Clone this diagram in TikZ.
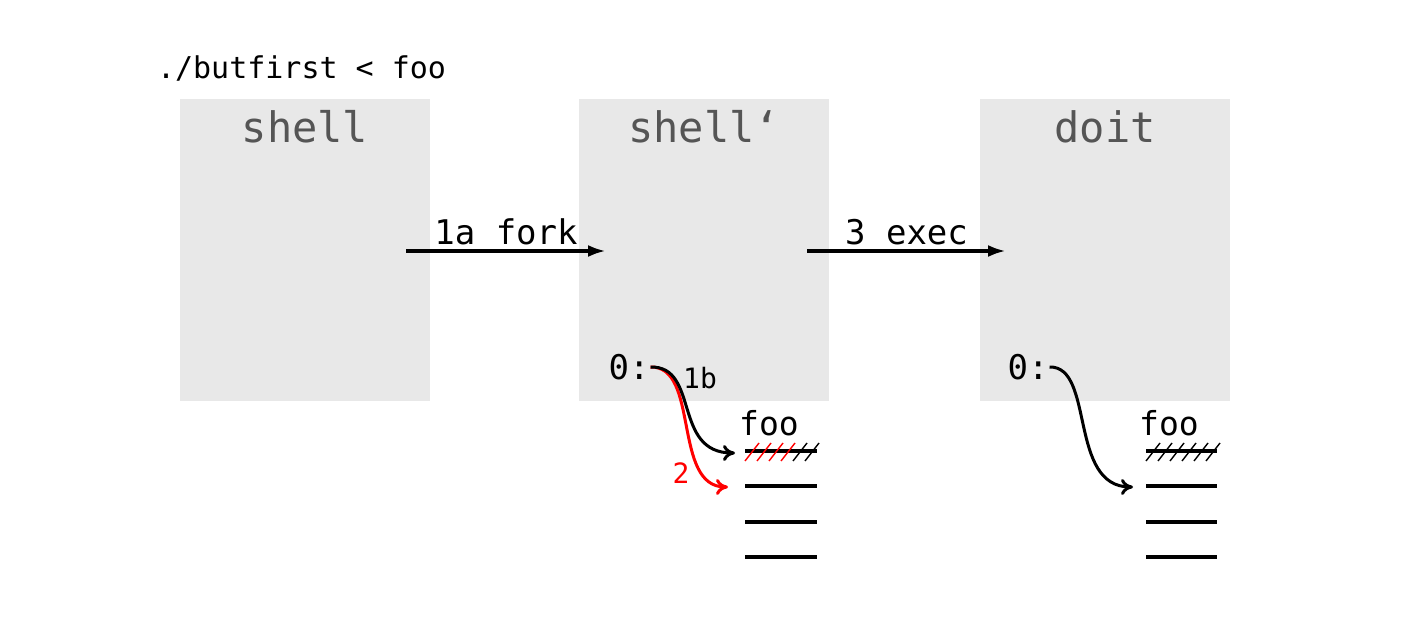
\documentclass[tikz,border=0pt]{standalone}
\usepackage{fontspec}
\setmonofont{DejaVu Sans Mono}
\usetikzlibrary{positioning,arrows.meta}
\definecolor{boxgray}{HTML}{E8E8E8}
\definecolor{labelgray}{HTML}{555555}
\begin{document}
\begin{tikzpicture}[x=0.5pt,y=-0.5pt,
    proc/.style={fill=boxgray, minimum width=125pt, minimum height=151pt, inner sep=0pt},
    proclabel/.style={text=labelgray, font=\ttfamily\fontsize{21}{24}\selectfont},
    steplabel/.style={font=\ttfamily\fontsize{17}{20}\selectfont},
    fdline/.style={line width=1.8pt},
    hatch/.style={line width=0.7pt},
    redir/.style={-{To[length=6pt,width=8pt]}, line width=1.5pt}]
        \useasboundingbox (0,0) rectangle (1417,624);

        % Command line
        \node[anchor=west, font=\ttfamily\fontsize{15}{18}\selectfont] (cmd) at (150,69) {./butfirst < foo};

        % --- Process boxes ---
        \node[proc] (shell) at (305,250) {};
        \node[proc] (shellc) at (704,250) {};
        \node[proc] (doit) at (1105,250) {};
        \node[proclabel] at (305,127) {shell};
        \node[proclabel] at (704,127) {shell‘};
        \node[proclabel] at (1105,127) {doit};

        % Arrow end points
        \coordinate (forkA) at (406,251);
        \coordinate (forkB) at (606,251);
        \coordinate (execA) at (807,251);
        \coordinate (execB) at (1006,251);

        % --- fork and exec ---
        \draw[-{Latex[length=9pt,width=6pt]}, line width=1.8pt] (forkA) -- (forkB) node[midway, above=-1pt, steplabel] {1a fork};
        \draw[-{Latex[length=9pt,width=6pt]}, line width=1.8pt] (execA) -- (execB) node[midway, above=-1pt, steplabel] {3 exec};

        % --- File descriptors of shell` ---
        \node[steplabel] (zeroL) at (629,367) {0:};
        \node[font=\ttfamily\fontsize{16.5}{19}\selectfont] (fooL) at (769,423) {foo};
        \foreach \y in {451,486,522,557}
            \draw[fdline] (745,\y) -- (817,\y);
        \foreach \x in {745,757,...,781}
            \draw[hatch, red] (\x,461) -- (\x+14,443);
        \foreach \x in {793,805}
            \draw[hatch] (\x,461) -- (\x+14,443);
        \coordinate (fdA) at (735,453);
        \coordinate (fdB) at (728,487);

        % 1b: dup, 2: redirect
        \draw[redir, red] ([xshift=-3pt]zeroL.east) .. controls (700,366) and (672,487) .. (fdB);
        \draw[redir] ([xshift=-3pt]zeroL.east) .. controls (700,366) and (672,453) .. (fdA);
        \node[font=\ttfamily\fontsize{14}{17}\selectfont] (dupL) at (700,378) {1b};
        \node[font=\ttfamily\fontsize{14}{17}\selectfont, red] (redirL) at (681,473) {2};

        % --- File descriptors of doit ---
        \node[steplabel] (zeroR) at (1028,367) {0:};
        \node[font=\ttfamily\fontsize{16.5}{19}\selectfont] (fooR) at (1169,423) {foo};
        \foreach \y in {451,486,522,557}
            \draw[fdline] (1146,\y) -- (1217,\y);
        \foreach \x in {1146,1158,...,1206}
            \draw[hatch] (\x,461) -- (\x+14,443);
        \coordinate (fdC) at (1133,487);
        \draw[redir] ([xshift=-3pt]zeroR.east) .. controls (1095,366) and (1068,487) .. (fdC);

    \end{tikzpicture}
\end{document}
